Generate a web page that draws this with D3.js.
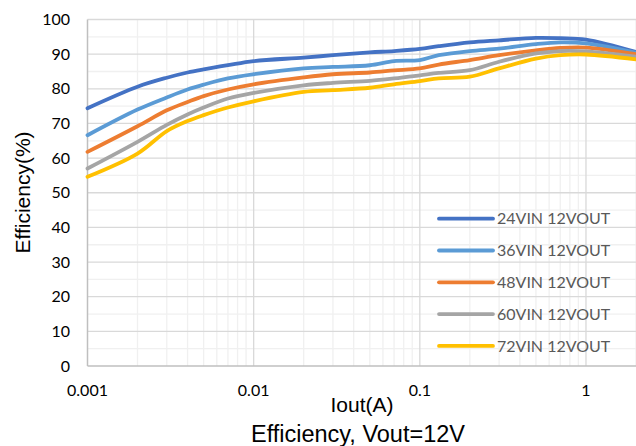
<!DOCTYPE html>
<html>
<head>
<meta charset="utf-8">
<script src="https://cdn.jsdelivr.net/npm/d3@7"></script>
<style>
  body { margin: 0; background: #fff; }
  svg { display: block; }
</style>
</head>
<body>
<div id="chart"></div>
<script>
// Output current (A) sample points
var iout = [0.001, 0.002, 0.003, 0.004, 0.005, 0.007, 0.01, 0.02, 0.03, 0.05, 0.07, 0.1, 0.13, 0.2, 0.3, 0.5, 0.7, 1, 2];

// Efficiency (%) per series
var eff24 = [74.4, 80.6, 83.2, 84.7, 85.6, 86.8, 88.0, 89.0, 89.7, 90.5, 90.9, 91.5, 92.3, 93.4, 94.0, 94.7, 94.6, 94.2, 90.6];
var eff36 = [66.6, 74.0, 77.5, 79.8, 81.2, 83.0, 84.2, 85.9, 86.3, 86.8, 88.0, 88.3, 89.7, 90.9, 91.6, 92.9, 93.4, 93.1, 90.4];
var eff48 = [61.8, 69.2, 73.8, 76.2, 77.9, 79.8, 81.3, 83.3, 84.2, 84.7, 85.3, 85.9, 87.0, 88.3, 89.7, 91.1, 91.8, 91.9, 90.0];
var eff60 = [57.0, 64.7, 69.6, 72.6, 74.6, 77.2, 78.8, 81.0, 81.7, 82.3, 83.0, 83.9, 84.6, 85.4, 87.8, 90.2, 90.9, 90.8, 89.3];
var eff72 = [54.6, 61.3, 67.8, 70.7, 72.4, 74.6, 76.4, 79.1, 79.6, 80.3, 81.3, 82.2, 83.0, 83.5, 85.9, 88.7, 89.7, 89.9, 88.5];

var seriesNames = ["24VIN 12VOUT", "36VIN 12VOUT", "48VIN 12VOUT", "60VIN 12VOUT", "72VIN 12VOUT"];
var seriesColors = ["#4472C4", "#5B9BD5", "#ED7D31", "#A5A5A5", "#FFC000"];
var seriesValues = [eff24, eff36, eff48, eff60, eff72];

var xTicks = [0.001, 0.01, 0.1, 1];
var yTicks = [0, 10, 20, 30, 40, 50, 60, 70, 80, 90, 100];

var W = 636, H = 446;
var svg = d3.select("#chart").append("svg").attr("width", W).attr("height", H);

var x = d3.scaleLog().domain([0.001, 2]).range([87.5, 636]);
var y = d3.scaleLinear().domain([0, 100]).range([366, 19.5]);

var tickFont = "Lato, 'Noto Sans', sans-serif";
var titleFont = "'Liberation Sans', Arial, sans-serif";

// minor grid
var minorX = [];
[0.001, 0.01, 0.1, 1].forEach(function (d) {
  for (var k = 2; k <= 9; k++) if (d * k <= 2) minorX.push(d * k);
});
var minorY = d3.range(5, 100, 10);

var grid = svg.append("g");
grid.selectAll(".mx").data(minorX).enter().append("line")
  .attr("x1", d => x(d)).attr("x2", d => x(d))
  .attr("y1", y(0)).attr("y2", y(100))
  .attr("stroke", "#f0f0f0").attr("stroke-width", 1.3);
grid.selectAll(".my").data(minorY).enter().append("line")
  .attr("x1", x(0.001)).attr("x2", W)
  .attr("y1", d => y(d)).attr("y2", d => y(d))
  .attr("stroke", "#f0f0f0").attr("stroke-width", 1.3);
// major grid
grid.selectAll(".Mx").data(xTicks.slice(1)).enter().append("line")
  .attr("x1", d => x(d)).attr("x2", d => x(d))
  .attr("y1", y(0)).attr("y2", y(100))
  .attr("stroke", "#d9d9d9").attr("stroke-width", 1.3);
grid.selectAll(".My").data(yTicks.slice(1)).enter().append("line")
  .attr("x1", x(0.001)).attr("x2", W)
  .attr("y1", d => y(d)).attr("y2", d => y(d))
  .attr("stroke", "#d9d9d9").attr("stroke-width", 1.3);

// axes lines
svg.append("line").attr("x1", x(0.001)).attr("x2", x(0.001)).attr("y1", y(0)).attr("y2", y(100))
  .attr("stroke", "#bfbfbf").attr("stroke-width", 1.5);
svg.append("line").attr("x1", x(0.001)).attr("x2", W).attr("y1", y(0)).attr("y2", y(0))
  .attr("stroke", "#bfbfbf").attr("stroke-width", 1.5);

// tick labels
svg.selectAll(".yt").data(yTicks).enter().append("text")
  .attr("x", 70).attr("y", d => y(d)).attr("dy", "0.35em")
  .attr("text-anchor", "end").attr("font-family", tickFont).attr("font-size", 16)
  .attr("fill", "#000").text(d => d);
svg.selectAll(".xt").data(xTicks).enter().append("text")
  .attr("x", d => x(d)).attr("y", 390).attr("dy", "0.35em")
  .attr("text-anchor", "middle").attr("font-family", tickFont).attr("font-size", 16)
  .attr("fill", "#000").text(d => String(d));

// axis titles
svg.append("text").attr("x", 362).attr("y", 412).attr("text-anchor", "middle")
  .attr("font-family", titleFont).attr("font-size", 21)
  .text("Iout(A)");
svg.append("text").attr("transform", "translate(30,192.5) rotate(-90)").attr("text-anchor", "middle")
  .attr("font-family", titleFont).attr("font-size", 21)
  .text("Efficiency(%)");
svg.append("text").attr("x", 358).attr("y", 442).attr("text-anchor", "middle")
  .attr("font-family", titleFont).attr("font-size", 23.5)
  .text("Efficiency, Vout=12V");

// series lines
var line = d3.line()
  .x((d, i) => x(iout[i]))
  .y(d => y(d))
  .curve(d3.curveCatmullRom.alpha(0.5));

var plot = svg.append("g");
seriesValues.forEach(function (vals, i) {
  plot.append("path").datum(vals)
    .attr("d", line)
    .attr("fill", "none")
    .attr("stroke", seriesColors[i])
    .attr("stroke-width", 3.8)
    .attr("stroke-linejoin", "round")
    .attr("stroke-linecap", "round");
});

// legend
var legend = svg.append("g");
seriesNames.forEach(function (name, i) {
  var ly = 218.7 + i * 31.8;
  legend.append("line").attr("x1", 439).attr("x2", 493).attr("y1", ly).attr("y2", ly)
    .attr("stroke", seriesColors[i]).attr("stroke-width", 3.8).attr("stroke-linecap", "round");
  legend.append("text").attr("x", 497).attr("y", ly).attr("dy", "0.35em")
    .attr("font-family", tickFont).attr("font-size", 16).attr("fill", "#595959")
    .text(name);
});
</script>
</body>
</html>
